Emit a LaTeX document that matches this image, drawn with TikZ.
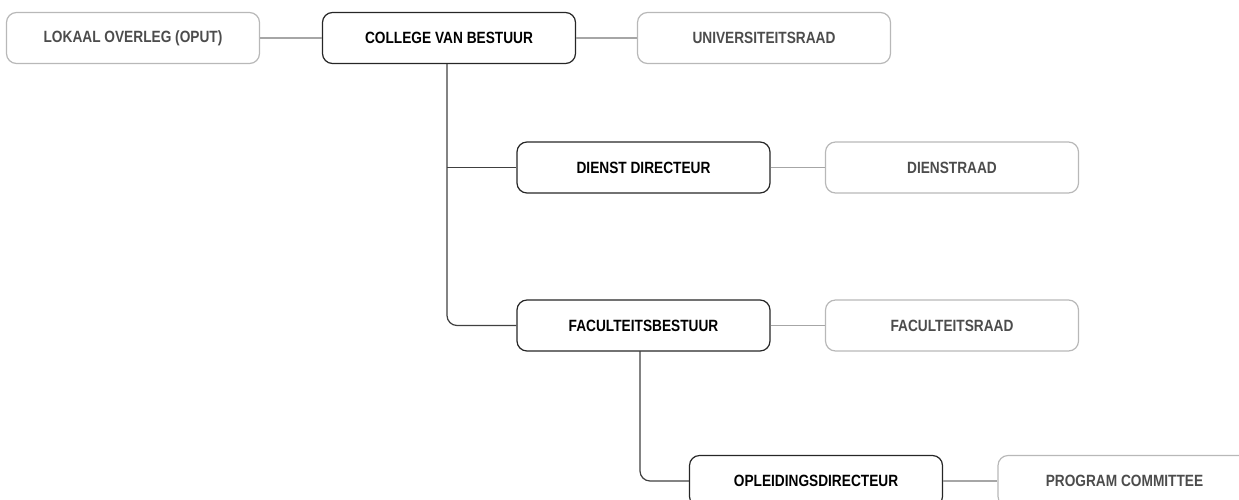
\documentclass[tikz,border=0pt]{standalone}
\usepackage{fontspec}
\setmainfont{Liberation Sans}[FakeStretch=0.84]
\begin{document}
\begin{tikzpicture}[x=1pt,y=-1pt,
  every node/.style={font=\fontsize{16.3}{18}\selectfont\bfseries},
  mainbox/.style={draw=black!85, line width=1.2pt, rounded corners=10pt, minimum width=253pt, minimum height=51pt, text=black, inner sep=0pt},
  sidebox/.style={draw=black!28, line width=1.2pt, rounded corners=10pt, minimum width=253pt, minimum height=51pt, text=black!70, inner sep=0pt},
  mainline/.style={draw=black!75, line width=1.2pt, rounded corners=10pt},
  sideline/.style={draw=black!35, line width=1.2pt}]
\useasboundingbox (0,0) rectangle (1239,499);
\node[sidebox] (lok) at (133,38) {LOKAAL OVERLEG (OPUT)};
\node[mainbox] (cvb) at (449,38) {COLLEGE VAN BESTUUR};
\node[sidebox] (ur) at (764,38) {UNIVERSITEITSRAAD};
\node[mainbox] (dd) at (643.5,167.5) {DIENST DIRECTEUR};
\node[sidebox] (dr) at (952,167.5) {DIENSTRAAD};
\node[mainbox] (fb) at (643.5,325.5) {FACULTEITSBESTUUR};
\node[sidebox] (fr) at (952,325.5) {FACULTEITSRAAD};
\node[mainbox] (od) at (816,481) {OPLEIDINGSDIRECTEUR};
\node[sidebox] (pc) at (1124.5,481) {PROGRAM COMMITTEE};
\draw[sideline] (lok) -- (cvb);
\draw[sideline] (cvb) -- (ur);
\draw[sideline] (dd) -- (dr);
\draw[sideline] (fb) -- (fr);
\draw[sideline] (od) -- (pc);
\coordinate (v1) at (447,167.5);
\draw[mainline] (cvb.south -| v1) -- (447,325.5) -- (fb.west);
\draw[draw=black!75, line width=1.2pt] (v1) -- (dd.west);
\draw[mainline] (640,351) -- (640,481) -- (od.west);
\end{tikzpicture}
\end{document}
